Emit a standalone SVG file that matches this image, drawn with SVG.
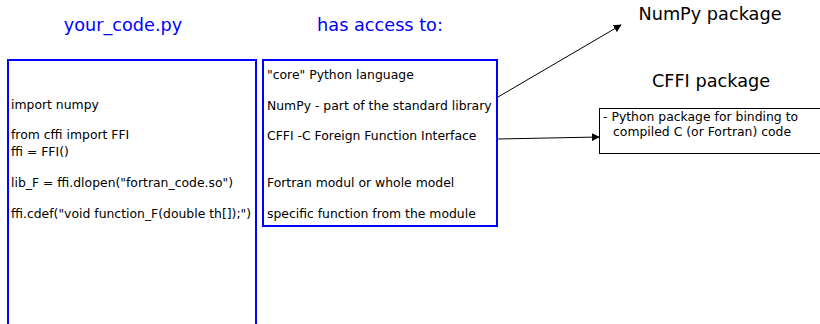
<svg xmlns="http://www.w3.org/2000/svg" width="820" height="324" viewBox="0 0 820 324">
  <style>
    .title { font-family: "DejaVu Sans", sans-serif; font-size: 17.7px; }
    .blue { fill: #0000ff; }
    .code { font-family: "DejaVu Sans", sans-serif; font-size: 12.4px; fill: #000; }
    .item { font-family: "DejaVu Sans", sans-serif; font-size: 12.4px; fill: #000; }
    .frame { fill: #fff; stroke: #0000ff; stroke-width: 2; }
    .note { fill: #fff; stroke: #000; stroke-width: 1; }
    .link { stroke: #000; stroke-width: 1; fill: none; marker-end: url(#head); }
  </style>
  <defs>
    <marker id="head" viewBox="0 0 10 10" refX="9" refY="5" markerWidth="8" markerHeight="8" markerUnits="userSpaceOnUse" orient="auto">
      <path d="M0,0 L10,5 L0,10 Z" fill="#000"/>
    </marker>
  </defs>
  <rect width="820" height="324" fill="#fff"/>

  <g id="script">
    <text class="title blue" x="123" y="31" text-anchor="middle">your_code.py</text>
    <rect class="frame" x="8" y="60" width="248" height="280"/>
    <text class="code" x="11" y="109">import numpy</text>
    <text class="code" x="11" y="139">from cffi import FFI</text>
    <text class="code" x="11" y="156">ffi = FFI()</text>
    <text class="code" x="11" y="187">lib_F = ffi.dlopen("fortran_code.so")</text>
    <text class="code" x="11" y="218">ffi.cdef("void function_F(double th[]);")</text>
  </g>

  <g id="access">
    <text class="title blue" x="380" y="31" text-anchor="middle">has access to:</text>
    <rect class="frame" x="263" y="60" width="234" height="166"/>
    <text class="item" x="267" y="79">"core" Python language</text>
    <text class="item" x="267" y="110">NumPy - part of the standard library</text>
    <text class="item" x="267" y="140">CFFI -C Foreign Function Interface</text>
    <text class="item" x="267" y="187">Fortran modul or whole model</text>
    <text class="item" x="267" y="218">specific function from the module</text>
  </g>

  <g id="numpy">
    <text class="title" x="710" y="20" text-anchor="middle">NumPy package</text>
  </g>

  <g id="cffi">
    <text class="title" x="711" y="87" text-anchor="middle">CFFI package</text>
    <rect class="note" x="599.5" y="108.5" width="230" height="45"/>
    <text class="item" x="603" y="121">- Python package for binding to</text>
    <text class="item" x="613" y="136">compiled C (or Fortran) code</text>
  </g>

  <g id="connectors">
    <line class="link" x1="498" y1="97" x2="621" y2="25"/>
    <line class="link" x1="498" y1="139" x2="599" y2="137"/>
  </g>
</svg>
